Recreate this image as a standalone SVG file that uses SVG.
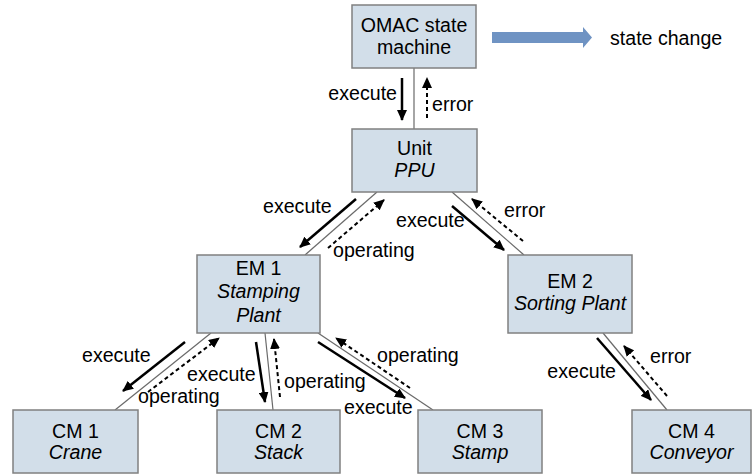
<svg xmlns="http://www.w3.org/2000/svg" width="754" height="475" viewBox="0 0 754 475">
  <style>
    .box { fill: #d2dee9; stroke: #808080; stroke-width: 1.5; }
    .t { font-family: "Liberation Sans", Arial, sans-serif; font-size: 19.6px; fill: #000; }
    .c { text-anchor: middle; }
    .i { font-style: italic; }
    .link { stroke: #6a6a6a; stroke-width: 1.2; fill: none; }
    .exec { stroke: #000; stroke-width: 2.5; fill: none; marker-end: url(#head); }
    .back { stroke: #000; stroke-width: 2; stroke-dasharray: 4 3; fill: none; marker-end: url(#head); }
  </style>
  <defs>
    <marker id="head" markerUnits="userSpaceOnUse" markerWidth="11" markerHeight="10" refX="10" refY="5" orient="auto">
      <path d="M0,0 L11,5 L0,10 z" fill="#000"/>
    </marker>
  </defs>

  <!-- legend -->
  <g id="legend">
    <polygon points="492,32 583,32 583,27 592,37.5 583,48 583,43 492,43" fill="#6f93c3"/>
    <text class="t" x="610" y="45">state change</text>
  </g>

  <!-- connectors -->
  <g id="connectors">
    <line class="link" x1="414" y1="68" x2="414" y2="129"/>
    <line class="exec" x1="402" y1="78" x2="402" y2="120"/>
    <line class="back" x1="427" y1="118" x2="427" y2="78"/>
    <text class="t" x="397" y="100" text-anchor="end">execute</text>
    <text class="t" x="432" y="111">error</text>

    <line class="link" x1="377" y1="192" x2="305" y2="255"/>
    <line class="exec" x1="356" y1="199" x2="300" y2="247"/>
    <line class="back" x1="328" y1="248" x2="384" y2="200"/>
    <text class="t" x="263" y="213">execute</text>
    <text class="t" x="333" y="257">operating</text>

    <line class="link" x1="452" y1="192" x2="524" y2="255"/>
    <line class="exec" x1="452" y1="206" x2="504" y2="250"/>
    <line class="back" x1="523" y1="241" x2="472" y2="199"/>
    <text class="t" x="396" y="227">execute</text>
    <text class="t" x="504" y="217">error</text>

    <line class="link" x1="211" y1="333" x2="115" y2="410"/>
    <line class="exec" x1="185" y1="342" x2="123" y2="391"/>
    <line class="back" x1="148" y1="392" x2="219" y2="338"/>
    <text class="t" x="82" y="362">execute</text>
    <text class="t" x="138" y="403">operating</text>

    <line class="link" x1="265" y1="333" x2="273" y2="410"/>
    <line class="exec" x1="256" y1="342" x2="265" y2="402"/>
    <line class="back" x1="280" y1="397" x2="274" y2="339"/>
    <text class="t" x="187" y="381">execute</text>
    <text class="t" x="284" y="388">operating</text>

    <line class="link" x1="318" y1="333" x2="433" y2="410"/>
    <line class="exec" x1="318" y1="342" x2="405" y2="398"/>
    <line class="back" x1="410" y1="388" x2="336" y2="338"/>
    <text class="t" x="377" y="362">operating</text>
    <text class="t" x="344" y="414">execute</text>

    <line class="link" x1="603" y1="333" x2="667" y2="410"/>
    <line class="exec" x1="597" y1="338" x2="651" y2="400"/>
    <line class="back" x1="667" y1="396" x2="624" y2="346"/>
    <text class="t" x="616" y="378" text-anchor="end">execute</text>
    <text class="t" x="650" y="363">error</text>
  </g>

  <!-- nodes -->
  <g id="omac">
    <rect class="box" x="352" y="5" width="124" height="63"/>
    <text class="t c" x="414" y="32">OMAC state</text>
    <text class="t c" x="414" y="54">machine</text>
  </g>
  <g id="unit">
    <rect class="box" x="352" y="129" width="125" height="63"/>
    <text class="t c" x="414.5" y="155">Unit</text>
    <text class="t c i" x="414.5" y="177">PPU</text>
  </g>
  <g id="em1">
    <rect class="box" x="197" y="255" width="123" height="78"/>
    <text class="t c" x="258.5" y="275">EM 1</text>
    <text class="t c i" x="258.5" y="298">Stamping</text>
    <text class="t c i" x="258.5" y="322">Plant</text>
  </g>
  <g id="em2">
    <rect class="box" x="508" y="255" width="124" height="78"/>
    <text class="t c" x="570" y="288">EM 2</text>
    <text class="t c i" x="570" y="310">Sorting Plant</text>
  </g>
  <g id="cm1">
    <rect class="box" x="13" y="410" width="125" height="63"/>
    <text class="t c" x="75.5" y="438">CM 1</text>
    <text class="t c i" x="75.5" y="459">Crane</text>
  </g>
  <g id="cm2">
    <rect class="box" x="217" y="410" width="123" height="63"/>
    <text class="t c" x="278.5" y="438">CM 2</text>
    <text class="t c i" x="278.5" y="459">Stack</text>
  </g>
  <g id="cm3">
    <rect class="box" x="418" y="410" width="124" height="63"/>
    <text class="t c" x="480" y="438">CM 3</text>
    <text class="t c i" x="480" y="459">Stamp</text>
  </g>
  <g id="cm4">
    <rect class="box" x="632" y="410" width="119" height="63"/>
    <text class="t c" x="691.5" y="438">CM 4</text>
    <text class="t c i" x="691.5" y="459">Conveyor</text>
  </g>
</svg>
